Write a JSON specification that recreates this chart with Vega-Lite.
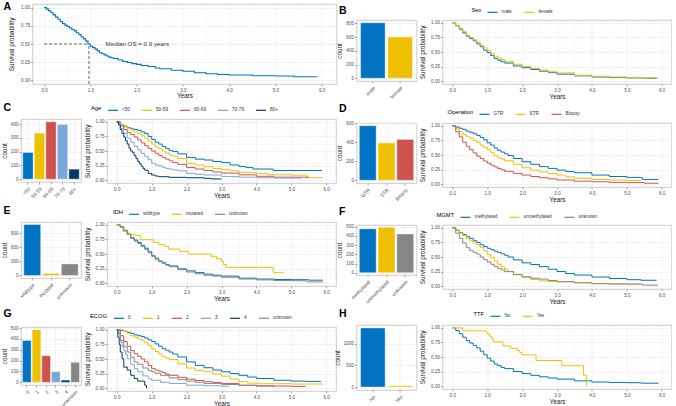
{
"$schema": "https://vega.github.io/schema/vega-lite/v6.json",
"padding": {"left": 0, "top": 1, "right": 0, "bottom": 0},
"background": "white",
"config": {
  "font": "Liberation Sans",
  "view": {"stroke": "#BEBEBE", "strokeWidth": 0.8},
  "axis": {"labelFontSize": 4.6, "labelColor": "#4D4D4D", "titleFontSize": 6.4, "titleFontWeight": "normal", "titleColor": "#1A1A1A", "tickColor": "#4D4D4D", "tickSize": 2, "tickWidth": 0.5, "domain": false, "gridColor": "#EBEBEB", "gridWidth": 0.6, "labelPadding": 1, "titlePadding": 3},
  "legend": {"orient": "none", "direction": "horizontal", "titleOrient": "left", "symbolType": "stroke", "symbolStrokeWidth": 1.2, "symbolSize": 100, "labelFontSize": 4.7, "labelColor": "#333333", "titleFontSize": 5.8, "titleFontWeight": "normal", "titleColor": "#000000", "titlePadding": 5, "columnPadding": 9, "labelOffset": 3, "padding": 0},
  "title": {"fontSize": 10.5, "fontWeight": "bold", "anchor": "start", "frame": "group", "color": "#000000"}
},
"datasets": {
  "kmA": [{"t":0,"s":1},{"t":0.05,"s":0.98},{"t":0.1,"s":0.955},{"t":0.15,"s":0.93},{"t":0.2,"s":0.9},{"t":0.25,"s":0.87},{"t":0.3,"s":0.84},{"t":0.35,"s":0.81},{"t":0.4,"s":0.78},{"t":0.45,"s":0.76},{"t":0.5,"s":0.74},{"t":0.55,"s":0.72},{"t":0.6,"s":0.7},{"t":0.65,"s":0.68},{"t":0.7,"s":0.655},{"t":0.75,"s":0.63},{"t":0.8,"s":0.6},{"t":0.85,"s":0.57},{"t":0.9,"s":0.54},{"t":0.95,"s":0.5},{"t":1,"s":0.47},{"t":1.05,"s":0.45},{"t":1.1,"s":0.43},{"t":1.15,"s":0.405},{"t":1.2,"s":0.38},{"t":1.25,"s":0.365},{"t":1.3,"s":0.35},{"t":1.35,"s":0.335},{"t":1.4,"s":0.32},{"t":1.45,"s":0.31},{"t":1.5,"s":0.3},{"t":1.6,"s":0.28},{"t":1.7,"s":0.26},{"t":1.8,"s":0.245},{"t":1.9,"s":0.23},{"t":2,"s":0.22},{"t":2.1,"s":0.205},{"t":2.25,"s":0.19},{"t":2.4,"s":0.17},{"t":2.5,"s":0.16},{"t":2.75,"s":0.14},{"t":3,"s":0.125},{"t":3.25,"s":0.105},{"t":3.5,"s":0.09},{"t":3.75,"s":0.08},{"t":4,"s":0.073},{"t":4.5,"s":0.064},{"t":5,"s":0.06},{"t":5.4,"s":0.05},{"t":5.9,"s":0.046}],
  "kmB": [
    {"g":"male","t":0,"s":1},{"g":"male","t":0.1,"s":0.95},{"g":"male","t":0.2,"s":0.89},{"g":"male","t":0.3,"s":0.83},{"g":"male","t":0.4,"s":0.77},{"g":"male","t":0.5,"s":0.73},{"g":"male","t":0.6,"s":0.69},{"g":"male","t":0.7,"s":0.64},{"g":"male","t":0.8,"s":0.59},{"g":"male","t":0.9,"s":0.53},{"g":"male","t":1,"s":0.49},{"g":"male","t":1.1,"s":0.44},{"g":"male","t":1.2,"s":0.39},{"g":"male","t":1.3,"s":0.36},{"g":"male","t":1.4,"s":0.33},{"g":"male","t":1.5,"s":0.31},{"g":"male","t":1.75,"s":0.26},{"g":"male","t":2,"s":0.23},{"g":"male","t":2.25,"s":0.2},{"g":"male","t":2.5,"s":0.17},{"g":"male","t":2.75,"s":0.145},{"g":"male","t":3,"s":0.12},{"g":"male","t":3.5,"s":0.09},{"g":"male","t":4,"s":0.07},{"g":"male","t":4.5,"s":0.06},{"g":"male","t":5,"s":0.055},{"g":"male","t":5.5,"s":0.05},{"g":"male","t":5.85,"s":0.045},
    {"g":"female","t":0,"s":1},{"g":"female","t":0.1,"s":0.96},{"g":"female","t":0.2,"s":0.91},{"g":"female","t":0.3,"s":0.85},{"g":"female","t":0.4,"s":0.79},{"g":"female","t":0.5,"s":0.75},{"g":"female","t":0.6,"s":0.71},{"g":"female","t":0.7,"s":0.67},{"g":"female","t":0.8,"s":0.62},{"g":"female","t":0.9,"s":0.57},{"g":"female","t":1,"s":0.53},{"g":"female","t":1.1,"s":0.48},{"g":"female","t":1.2,"s":0.43},{"g":"female","t":1.3,"s":0.4},{"g":"female","t":1.4,"s":0.37},{"g":"female","t":1.5,"s":0.34},{"g":"female","t":1.75,"s":0.29},{"g":"female","t":2,"s":0.255},{"g":"female","t":2.25,"s":0.22},{"g":"female","t":2.5,"s":0.19},{"g":"female","t":2.75,"s":0.16},{"g":"female","t":3,"s":0.14},{"g":"female","t":3.5,"s":0.1},{"g":"female","t":4,"s":0.08},{"g":"female","t":4.5,"s":0.07},{"g":"female","t":5,"s":0.06},{"g":"female","t":5.5,"s":0.055},{"g":"female","t":5.9,"s":0.05}],
  "kmC": [
    {"g":"<50","t":0,"s":1},{"g":"<50","t":0.1,"s":0.95},{"g":"<50","t":0.2,"s":0.92},{"g":"<50","t":0.3,"s":0.9},{"g":"<50","t":0.4,"s":0.88},{"g":"<50","t":0.5,"s":0.87},{"g":"<50","t":0.6,"s":0.855},{"g":"<50","t":0.7,"s":0.83},{"g":"<50","t":0.8,"s":0.8},{"g":"<50","t":0.9,"s":0.75},{"g":"<50","t":1,"s":0.7},{"g":"<50","t":1.1,"s":0.65},{"g":"<50","t":1.2,"s":0.62},{"g":"<50","t":1.3,"s":0.58},{"g":"<50","t":1.4,"s":0.545},{"g":"<50","t":1.5,"s":0.51},{"g":"<50","t":1.6,"s":0.49},{"g":"<50","t":1.75,"s":0.45},{"g":"<50","t":2,"s":0.39},{"g":"<50","t":2.25,"s":0.36},{"g":"<50","t":2.5,"s":0.345},{"g":"<50","t":2.75,"s":0.32},{"g":"<50","t":3,"s":0.3},{"g":"<50","t":3.25,"s":0.26},{"g":"<50","t":3.5,"s":0.235},{"g":"<50","t":3.7,"s":0.215},{"g":"<50","t":3.9,"s":0.19},{"g":"<50","t":4.48,"s":0.165},{"g":"<50","t":5.88,"s":0.165},
    {"g":"50-59","t":0,"s":1},{"g":"50-59","t":0.1,"s":0.96},{"g":"50-59","t":0.2,"s":0.93},{"g":"50-59","t":0.3,"s":0.89},{"g":"50-59","t":0.4,"s":0.86},{"g":"50-59","t":0.5,"s":0.83},{"g":"50-59","t":0.6,"s":0.8},{"g":"50-59","t":0.7,"s":0.76},{"g":"50-59","t":0.8,"s":0.72},{"g":"50-59","t":0.9,"s":0.67},{"g":"50-59","t":1,"s":0.62},{"g":"50-59","t":1.1,"s":0.57},{"g":"50-59","t":1.2,"s":0.54},{"g":"50-59","t":1.3,"s":0.5},{"g":"50-59","t":1.4,"s":0.465},{"g":"50-59","t":1.5,"s":0.43},{"g":"50-59","t":1.6,"s":0.41},{"g":"50-59","t":1.75,"s":0.37},{"g":"50-59","t":2,"s":0.29},{"g":"50-59","t":2.25,"s":0.26},{"g":"50-59","t":2.5,"s":0.23},{"g":"50-59","t":2.75,"s":0.2},{"g":"50-59","t":3,"s":0.18},{"g":"50-59","t":3.25,"s":0.16},{"g":"50-59","t":3.5,"s":0.135},{"g":"50-59","t":4,"s":0.115},{"g":"50-59","t":4.33,"s":0.09},{"g":"50-59","t":5,"s":0.085},{"g":"50-59","t":5.45,"s":0.04},{"g":"50-59","t":5.9,"s":0.04},
    {"g":"60-69","t":0,"s":1},{"g":"60-69","t":0.1,"s":0.93},{"g":"60-69","t":0.2,"s":0.87},{"g":"60-69","t":0.3,"s":0.82},{"g":"60-69","t":0.4,"s":0.785},{"g":"60-69","t":0.5,"s":0.74},{"g":"60-69","t":0.6,"s":0.69},{"g":"60-69","t":0.7,"s":0.64},{"g":"60-69","t":0.8,"s":0.59},{"g":"60-69","t":0.9,"s":0.545},{"g":"60-69","t":1,"s":0.5},{"g":"60-69","t":1.1,"s":0.46},{"g":"60-69","t":1.2,"s":0.425},{"g":"60-69","t":1.3,"s":0.39},{"g":"60-69","t":1.4,"s":0.36},{"g":"60-69","t":1.5,"s":0.33},{"g":"60-69","t":1.6,"s":0.3},{"g":"60-69","t":1.75,"s":0.27},{"g":"60-69","t":2,"s":0.215},{"g":"60-69","t":2.25,"s":0.19},{"g":"60-69","t":2.5,"s":0.165},{"g":"60-69","t":2.75,"s":0.14},{"g":"60-69","t":3,"s":0.12},{"g":"60-69","t":3.5,"s":0.09},{"g":"60-69","t":4,"s":0.065},{"g":"60-69","t":4.5,"s":0.05},{"g":"60-69","t":5.5,"s":0.047},
    {"g":"70-79","t":0,"s":1},{"g":"70-79","t":0.1,"s":0.89},{"g":"70-79","t":0.2,"s":0.8},{"g":"70-79","t":0.3,"s":0.72},{"g":"70-79","t":0.4,"s":0.65},{"g":"70-79","t":0.5,"s":0.58},{"g":"70-79","t":0.6,"s":0.52},{"g":"70-79","t":0.7,"s":0.46},{"g":"70-79","t":0.8,"s":0.41},{"g":"70-79","t":0.9,"s":0.35},{"g":"70-79","t":1,"s":0.29},{"g":"70-79","t":1.1,"s":0.26},{"g":"70-79","t":1.2,"s":0.245},{"g":"70-79","t":1.3,"s":0.22},{"g":"70-79","t":1.4,"s":0.2},{"g":"70-79","t":1.5,"s":0.19},{"g":"70-79","t":1.6,"s":0.175},{"g":"70-79","t":1.75,"s":0.16},{"g":"70-79","t":2,"s":0.115},{"g":"70-79","t":2.25,"s":0.1},{"g":"70-79","t":2.5,"s":0.087},{"g":"70-79","t":3,"s":0.06},{"g":"70-79","t":3.5,"s":0.05},{"g":"70-79","t":4,"s":0.04},{"g":"70-79","t":4.5,"s":0.035},{"g":"70-79","t":5.3,"s":0.03},
    {"g":"80+","t":0,"s":1},{"g":"80+","t":0.05,"s":0.95},{"g":"80+","t":0.1,"s":0.87},{"g":"80+","t":0.15,"s":0.8},{"g":"80+","t":0.2,"s":0.74},{"g":"80+","t":0.25,"s":0.68},{"g":"80+","t":0.3,"s":0.62},{"g":"80+","t":0.35,"s":0.55},{"g":"80+","t":0.4,"s":0.5},{"g":"80+","t":0.45,"s":0.47},{"g":"80+","t":0.5,"s":0.42},{"g":"80+","t":0.55,"s":0.37},{"g":"80+","t":0.6,"s":0.32},{"g":"80+","t":0.65,"s":0.28},{"g":"80+","t":0.7,"s":0.24},{"g":"80+","t":0.75,"s":0.2},{"g":"80+","t":0.8,"s":0.17},{"g":"80+","t":0.9,"s":0.115},{"g":"80+","t":1,"s":0.087},{"g":"80+","t":1.1,"s":0.07},{"g":"80+","t":1.2,"s":0.058},{"g":"80+","t":1.5,"s":0.047},{"g":"80+","t":2,"s":0.04},{"g":"80+","t":2.5,"s":0.03},{"g":"80+","t":2.7,"s":0.02},{"g":"80+","t":3,"s":0.02}],
  "kmD": [
    {"g":"GTR","t":0,"s":1},{"g":"GTR","t":0.1,"s":0.98},{"g":"GTR","t":0.2,"s":0.96},{"g":"GTR","t":0.3,"s":0.94},{"g":"GTR","t":0.4,"s":0.91},{"g":"GTR","t":0.5,"s":0.89},{"g":"GTR","t":0.6,"s":0.865},{"g":"GTR","t":0.7,"s":0.835},{"g":"GTR","t":0.8,"s":0.8},{"g":"GTR","t":0.9,"s":0.76},{"g":"GTR","t":1,"s":0.71},{"g":"GTR","t":1.1,"s":0.67},{"g":"GTR","t":1.2,"s":0.62},{"g":"GTR","t":1.3,"s":0.58},{"g":"GTR","t":1.4,"s":0.55},{"g":"GTR","t":1.5,"s":0.52},{"g":"GTR","t":1.6,"s":0.49},{"g":"GTR","t":1.75,"s":0.44},{"g":"GTR","t":2,"s":0.385},{"g":"GTR","t":2.25,"s":0.34},{"g":"GTR","t":2.5,"s":0.3},{"g":"GTR","t":2.75,"s":0.27},{"g":"GTR","t":3,"s":0.24},{"g":"GTR","t":3.25,"s":0.215},{"g":"GTR","t":3.5,"s":0.195},{"g":"GTR","t":4,"s":0.155},{"g":"GTR","t":4.5,"s":0.13},{"g":"GTR","t":5,"s":0.115},{"g":"GTR","t":5.4,"s":0.11},{"g":"GTR","t":5.45,"s":0.08},{"g":"GTR","t":5.9,"s":0.08},
    {"g":"STR","t":0,"s":1},{"g":"STR","t":0.1,"s":0.95},{"g":"STR","t":0.2,"s":0.9},{"g":"STR","t":0.3,"s":0.85},{"g":"STR","t":0.4,"s":0.82},{"g":"STR","t":0.5,"s":0.79},{"g":"STR","t":0.6,"s":0.75},{"g":"STR","t":0.7,"s":0.72},{"g":"STR","t":0.8,"s":0.67},{"g":"STR","t":0.9,"s":0.63},{"g":"STR","t":1,"s":0.59},{"g":"STR","t":1.1,"s":0.54},{"g":"STR","t":1.2,"s":0.49},{"g":"STR","t":1.3,"s":0.455},{"g":"STR","t":1.4,"s":0.43},{"g":"STR","t":1.5,"s":0.4},{"g":"STR","t":1.75,"s":0.34},{"g":"STR","t":2,"s":0.28},{"g":"STR","t":2.25,"s":0.24},{"g":"STR","t":2.5,"s":0.21},{"g":"STR","t":2.75,"s":0.18},{"g":"STR","t":3,"s":0.155},{"g":"STR","t":3.25,"s":0.125},{"g":"STR","t":3.5,"s":0.1},{"g":"STR","t":4,"s":0.08},{"g":"STR","t":4.5,"s":0.07},{"g":"STR","t":5,"s":0.06},{"g":"STR","t":5.4,"s":0.05},
    {"g":"Biopsy","t":0,"s":1},{"g":"Biopsy","t":0.1,"s":0.9},{"g":"Biopsy","t":0.2,"s":0.81},{"g":"Biopsy","t":0.3,"s":0.72},{"g":"Biopsy","t":0.4,"s":0.65},{"g":"Biopsy","t":0.5,"s":0.59},{"g":"Biopsy","t":0.6,"s":0.535},{"g":"Biopsy","t":0.7,"s":0.48},{"g":"Biopsy","t":0.8,"s":0.44},{"g":"Biopsy","t":0.9,"s":0.395},{"g":"Biopsy","t":1,"s":0.36},{"g":"Biopsy","t":1.1,"s":0.325},{"g":"Biopsy","t":1.2,"s":0.295},{"g":"Biopsy","t":1.3,"s":0.27},{"g":"Biopsy","t":1.4,"s":0.245},{"g":"Biopsy","t":1.5,"s":0.22},{"g":"Biopsy","t":1.75,"s":0.185},{"g":"Biopsy","t":2,"s":0.155},{"g":"Biopsy","t":2.25,"s":0.13},{"g":"Biopsy","t":2.5,"s":0.11},{"g":"Biopsy","t":2.75,"s":0.09},{"g":"Biopsy","t":3,"s":0.07},{"g":"Biopsy","t":3.5,"s":0.05},{"g":"Biopsy","t":4,"s":0.04},{"g":"Biopsy","t":4.5,"s":0.03},{"g":"Biopsy","t":5,"s":0.025},{"g":"Biopsy","t":5.5,"s":0.015},{"g":"Biopsy","t":5.9,"s":0.01}],
  "kmE": [
    {"g":"wildtype","t":0,"s":1},{"g":"wildtype","t":0.1,"s":0.96},{"g":"wildtype","t":0.2,"s":0.9},{"g":"wildtype","t":0.3,"s":0.84},{"g":"wildtype","t":0.4,"s":0.78},{"g":"wildtype","t":0.5,"s":0.74},{"g":"wildtype","t":0.6,"s":0.7},{"g":"wildtype","t":0.7,"s":0.65},{"g":"wildtype","t":0.8,"s":0.6},{"g":"wildtype","t":0.9,"s":0.54},{"g":"wildtype","t":1,"s":0.47},{"g":"wildtype","t":1.1,"s":0.43},{"g":"wildtype","t":1.2,"s":0.38},{"g":"wildtype","t":1.3,"s":0.35},{"g":"wildtype","t":1.4,"s":0.32},{"g":"wildtype","t":1.5,"s":0.295},{"g":"wildtype","t":1.75,"s":0.245},{"g":"wildtype","t":2,"s":0.21},{"g":"wildtype","t":2.25,"s":0.18},{"g":"wildtype","t":2.5,"s":0.155},{"g":"wildtype","t":2.75,"s":0.135},{"g":"wildtype","t":3,"s":0.12},{"g":"wildtype","t":3.5,"s":0.085},{"g":"wildtype","t":4,"s":0.07},{"g":"wildtype","t":4.5,"s":0.062},{"g":"wildtype","t":5,"s":0.058},{"g":"wildtype","t":5.5,"s":0.05},{"g":"wildtype","t":5.9,"s":0.045},
    {"g":"mutated","t":0,"s":1},{"g":"mutated","t":0.1,"s":0.97},{"g":"mutated","t":0.18,"s":0.89},{"g":"mutated","t":0.33,"s":0.84},{"g":"mutated","t":0.5,"s":0.82},{"g":"mutated","t":0.67,"s":0.745},{"g":"mutated","t":1.05,"s":0.7},{"g":"mutated","t":1.2,"s":0.66},{"g":"mutated","t":1.38,"s":0.63},{"g":"mutated","t":1.48,"s":0.585},{"g":"mutated","t":1.8,"s":0.545},{"g":"mutated","t":2.05,"s":0.5},{"g":"mutated","t":2.7,"s":0.46},{"g":"mutated","t":2.86,"s":0.415},{"g":"mutated","t":3,"s":0.375},{"g":"mutated","t":3.05,"s":0.32},{"g":"mutated","t":3.14,"s":0.27},{"g":"mutated","t":4.48,"s":0.18},{"g":"mutated","t":4.79,"s":0.18},
    {"g":"unknown","t":0,"s":1},{"g":"unknown","t":0.1,"s":0.97},{"g":"unknown","t":0.2,"s":0.91},{"g":"unknown","t":0.3,"s":0.84},{"g":"unknown","t":0.4,"s":0.77},{"g":"unknown","t":0.5,"s":0.72},{"g":"unknown","t":0.6,"s":0.68},{"g":"unknown","t":0.7,"s":0.63},{"g":"unknown","t":0.8,"s":0.58},{"g":"unknown","t":0.9,"s":0.52},{"g":"unknown","t":1,"s":0.46},{"g":"unknown","t":1.1,"s":0.41},{"g":"unknown","t":1.2,"s":0.37},{"g":"unknown","t":1.3,"s":0.34},{"g":"unknown","t":1.4,"s":0.31},{"g":"unknown","t":1.5,"s":0.28},{"g":"unknown","t":1.75,"s":0.23},{"g":"unknown","t":2,"s":0.19},{"g":"unknown","t":2.25,"s":0.16},{"g":"unknown","t":2.5,"s":0.135},{"g":"unknown","t":2.75,"s":0.12},{"g":"unknown","t":3,"s":0.1},{"g":"unknown","t":3.5,"s":0.07},{"g":"unknown","t":4,"s":0.055},{"g":"unknown","t":4.5,"s":0.045},{"g":"unknown","t":5,"s":0.04},{"g":"unknown","t":5.45,"s":0.02},{"g":"unknown","t":5.9,"s":0.02}],
  "kmF": [
    {"g":"methylated","t":0,"s":1},{"g":"methylated","t":0.1,"s":0.96},{"g":"methylated","t":0.2,"s":0.92},{"g":"methylated","t":0.3,"s":0.885},{"g":"methylated","t":0.4,"s":0.85},{"g":"methylated","t":0.5,"s":0.82},{"g":"methylated","t":0.6,"s":0.78},{"g":"methylated","t":0.7,"s":0.75},{"g":"methylated","t":0.8,"s":0.71},{"g":"methylated","t":0.9,"s":0.68},{"g":"methylated","t":1,"s":0.65},{"g":"methylated","t":1.1,"s":0.625},{"g":"methylated","t":1.2,"s":0.6},{"g":"methylated","t":1.3,"s":0.58},{"g":"methylated","t":1.4,"s":0.555},{"g":"methylated","t":1.5,"s":0.53},{"g":"methylated","t":1.6,"s":0.5},{"g":"methylated","t":1.75,"s":0.45},{"g":"methylated","t":2,"s":0.4},{"g":"methylated","t":2.25,"s":0.37},{"g":"methylated","t":2.5,"s":0.335},{"g":"methylated","t":2.75,"s":0.29},{"g":"methylated","t":3,"s":0.25},{"g":"methylated","t":3.25,"s":0.215},{"g":"methylated","t":3.5,"s":0.19},{"g":"methylated","t":4,"s":0.155},{"g":"methylated","t":4.5,"s":0.13},{"g":"methylated","t":5,"s":0.11},{"g":"methylated","t":5.4,"s":0.1},{"g":"methylated","t":5.85,"s":0.1},
    {"g":"unmethylated","t":0,"s":1},{"g":"unmethylated","t":0.1,"s":0.96},{"g":"unmethylated","t":0.2,"s":0.91},{"g":"unmethylated","t":0.3,"s":0.87},{"g":"unmethylated","t":0.4,"s":0.82},{"g":"unmethylated","t":0.5,"s":0.78},{"g":"unmethylated","t":0.6,"s":0.745},{"g":"unmethylated","t":0.7,"s":0.71},{"g":"unmethylated","t":0.8,"s":0.665},{"g":"unmethylated","t":0.9,"s":0.61},{"g":"unmethylated","t":1,"s":0.545},{"g":"unmethylated","t":1.1,"s":0.49},{"g":"unmethylated","t":1.2,"s":0.43},{"g":"unmethylated","t":1.3,"s":0.375},{"g":"unmethylated","t":1.4,"s":0.33},{"g":"unmethylated","t":1.5,"s":0.29},{"g":"unmethylated","t":1.6,"s":0.25},{"g":"unmethylated","t":1.75,"s":0.195},{"g":"unmethylated","t":2,"s":0.15},{"g":"unmethylated","t":2.25,"s":0.115},{"g":"unmethylated","t":2.5,"s":0.09},{"g":"unmethylated","t":2.75,"s":0.08},{"g":"unmethylated","t":3,"s":0.075},{"g":"unmethylated","t":3.5,"s":0.057},{"g":"unmethylated","t":4,"s":0.045},{"g":"unmethylated","t":4.5,"s":0.04},{"g":"unmethylated","t":5,"s":0.035},{"g":"unmethylated","t":5.4,"s":0.035},
    {"g":"unknown","t":0,"s":1},{"g":"unknown","t":0.1,"s":0.91},{"g":"unknown","t":0.2,"s":0.82},{"g":"unknown","t":0.3,"s":0.74},{"g":"unknown","t":0.4,"s":0.66},{"g":"unknown","t":0.5,"s":0.61},{"g":"unknown","t":0.6,"s":0.58},{"g":"unknown","t":0.7,"s":0.55},{"g":"unknown","t":0.8,"s":0.5},{"g":"unknown","t":0.9,"s":0.455},{"g":"unknown","t":1,"s":0.415},{"g":"unknown","t":1.1,"s":0.375},{"g":"unknown","t":1.2,"s":0.34},{"g":"unknown","t":1.3,"s":0.305},{"g":"unknown","t":1.4,"s":0.28},{"g":"unknown","t":1.5,"s":0.25},{"g":"unknown","t":1.75,"s":0.2},{"g":"unknown","t":2,"s":0.16},{"g":"unknown","t":2.25,"s":0.135},{"g":"unknown","t":2.5,"s":0.12},{"g":"unknown","t":2.75,"s":0.095},{"g":"unknown","t":3,"s":0.075},{"g":"unknown","t":3.5,"s":0.057},{"g":"unknown","t":4,"s":0.04},{"g":"unknown","t":4.5,"s":0.035},{"g":"unknown","t":5,"s":0.035},{"g":"unknown","t":5.45,"s":0.017},{"g":"unknown","t":5.9,"s":0.017}],
  "kmG": [
    {"g":"0","t":0,"s":1},{"g":"0","t":0.1,"s":0.99},{"g":"0","t":0.2,"s":0.975},{"g":"0","t":0.3,"s":0.96},{"g":"0","t":0.4,"s":0.94},{"g":"0","t":0.5,"s":0.915},{"g":"0","t":0.6,"s":0.9},{"g":"0","t":0.7,"s":0.885},{"g":"0","t":0.8,"s":0.86},{"g":"0","t":0.9,"s":0.83},{"g":"0","t":1,"s":0.8},{"g":"0","t":1.1,"s":0.76},{"g":"0","t":1.2,"s":0.72},{"g":"0","t":1.3,"s":0.68},{"g":"0","t":1.4,"s":0.65},{"g":"0","t":1.5,"s":0.62},{"g":"0","t":1.6,"s":0.585},{"g":"0","t":1.75,"s":0.535},{"g":"0","t":2,"s":0.45},{"g":"0","t":2.25,"s":0.39},{"g":"0","t":2.5,"s":0.35},{"g":"0","t":2.75,"s":0.31},{"g":"0","t":3,"s":0.28},{"g":"0","t":3.25,"s":0.25},{"g":"0","t":3.5,"s":0.22},{"g":"0","t":3.75,"s":0.19},{"g":"0","t":4,"s":0.165},{"g":"0","t":4.5,"s":0.135},{"g":"0","t":5,"s":0.12},{"g":"0","t":5.4,"s":0.115},{"g":"0","t":5.85,"s":0.115},
    {"g":"1","t":0,"s":1},{"g":"1","t":0.2,"s":0.97},{"g":"1","t":0.3,"s":0.94},{"g":"1","t":0.4,"s":0.9},{"g":"1","t":0.5,"s":0.875},{"g":"1","t":0.6,"s":0.845},{"g":"1","t":0.7,"s":0.815},{"g":"1","t":0.8,"s":0.78},{"g":"1","t":0.9,"s":0.73},{"g":"1","t":1,"s":0.675},{"g":"1","t":1.1,"s":0.63},{"g":"1","t":1.2,"s":0.585},{"g":"1","t":1.3,"s":0.54},{"g":"1","t":1.4,"s":0.515},{"g":"1","t":1.5,"s":0.49},{"g":"1","t":1.75,"s":0.415},{"g":"1","t":2,"s":0.345},{"g":"1","t":2.25,"s":0.305},{"g":"1","t":2.5,"s":0.28},{"g":"1","t":2.75,"s":0.24},{"g":"1","t":3,"s":0.205},{"g":"1","t":3.25,"s":0.155},{"g":"1","t":3.5,"s":0.11},{"g":"1","t":3.75,"s":0.085},{"g":"1","t":4,"s":0.075},{"g":"1","t":5,"s":0.07},{"g":"1","t":5.9,"s":0.065},
    {"g":"2","t":0,"s":1},{"g":"2","t":0.1,"s":0.9},{"g":"2","t":0.2,"s":0.8},{"g":"2","t":0.3,"s":0.72},{"g":"2","t":0.4,"s":0.645},{"g":"2","t":0.5,"s":0.59},{"g":"2","t":0.6,"s":0.545},{"g":"2","t":0.7,"s":0.5},{"g":"2","t":0.8,"s":0.45},{"g":"2","t":0.9,"s":0.39},{"g":"2","t":1,"s":0.335},{"g":"2","t":1.1,"s":0.31},{"g":"2","t":1.2,"s":0.29},{"g":"2","t":1.3,"s":0.265},{"g":"2","t":1.4,"s":0.24},{"g":"2","t":1.5,"s":0.22},{"g":"2","t":1.75,"s":0.185},{"g":"2","t":2,"s":0.155},{"g":"2","t":2.25,"s":0.13},{"g":"2","t":2.5,"s":0.11},{"g":"2","t":2.75,"s":0.095},{"g":"2","t":3,"s":0.08},{"g":"2","t":3.5,"s":0.05},{"g":"2","t":4,"s":0.04},{"g":"2","t":4.5,"s":0.035},{"g":"2","t":5,"s":0.03},{"g":"2","t":5.4,"s":0.025},
    {"g":"3","t":0,"s":1},{"g":"3","t":0.05,"s":0.93},{"g":"3","t":0.1,"s":0.79},{"g":"3","t":0.15,"s":0.72},{"g":"3","t":0.2,"s":0.65},{"g":"3","t":0.25,"s":0.58},{"g":"3","t":0.3,"s":0.505},{"g":"3","t":0.4,"s":0.41},{"g":"3","t":0.5,"s":0.335},{"g":"3","t":0.6,"s":0.28},{"g":"3","t":0.75,"s":0.21},{"g":"3","t":0.9,"s":0.16},{"g":"3","t":1,"s":0.135},{"g":"3","t":1.25,"s":0.1},{"g":"3","t":1.5,"s":0.08},{"g":"3","t":2,"s":0.05},{"g":"3","t":2.5,"s":0.04},{"g":"3","t":3,"s":0.03},{"g":"3","t":3.2,"s":0.02},
    {"g":"4","t":0,"s":1},{"g":"4","t":0.03,"s":0.875},{"g":"4","t":0.07,"s":0.75},{"g":"4","t":0.1,"s":0.62},{"g":"4","t":0.15,"s":0.505},{"g":"4","t":0.2,"s":0.36},{"g":"4","t":0.3,"s":0.31},{"g":"4","t":0.4,"s":0.22},{"g":"4","t":0.5,"s":0.165},{"g":"4","t":0.6,"s":0.12},{"g":"4","t":0.8,"s":0.05},{"g":"4","t":0.85,"s":0},
    {"g":"unknown","t":0,"s":1},{"g":"unknown","t":0.1,"s":0.82},{"g":"unknown","t":0.2,"s":0.71},{"g":"unknown","t":0.3,"s":0.62},{"g":"unknown","t":0.4,"s":0.53},{"g":"unknown","t":0.5,"s":0.45},{"g":"unknown","t":0.6,"s":0.41},{"g":"unknown","t":0.75,"s":0.345},{"g":"unknown","t":0.9,"s":0.3},{"g":"unknown","t":1,"s":0.28},{"g":"unknown","t":1.1,"s":0.255},{"g":"unknown","t":1.25,"s":0.22},{"g":"unknown","t":1.5,"s":0.175},{"g":"unknown","t":1.75,"s":0.145},{"g":"unknown","t":2,"s":0.12},{"g":"unknown","t":2.25,"s":0.1},{"g":"unknown","t":2.5,"s":0.08},{"g":"unknown","t":3,"s":0.0625},{"g":"unknown","t":3.5,"s":0.045},{"g":"unknown","t":4,"s":0.034},{"g":"unknown","t":4.5,"s":0.028}],
  "kmH": [
    {"g":"No","t":0,"s":1},{"g":"No","t":0.1,"s":0.955},{"g":"No","t":0.2,"s":0.9},{"g":"No","t":0.3,"s":0.84},{"g":"No","t":0.4,"s":0.78},{"g":"No","t":0.5,"s":0.74},{"g":"No","t":0.6,"s":0.7},{"g":"No","t":0.7,"s":0.655},{"g":"No","t":0.8,"s":0.6},{"g":"No","t":0.9,"s":0.54},{"g":"No","t":1,"s":0.48},{"g":"No","t":1.1,"s":0.43},{"g":"No","t":1.2,"s":0.38},{"g":"No","t":1.3,"s":0.35},{"g":"No","t":1.4,"s":0.32},{"g":"No","t":1.5,"s":0.3},{"g":"No","t":1.75,"s":0.25},{"g":"No","t":2,"s":0.215},{"g":"No","t":2.25,"s":0.185},{"g":"No","t":2.5,"s":0.16},{"g":"No","t":2.75,"s":0.14},{"g":"No","t":3,"s":0.12},{"g":"No","t":3.5,"s":0.09},{"g":"No","t":4,"s":0.07},{"g":"No","t":4.5,"s":0.063},{"g":"No","t":5,"s":0.058},{"g":"No","t":5.4,"s":0.05},{"g":"No","t":5.9,"s":0.046},
    {"g":"Yes","t":0,"s":1},{"g":"Yes","t":0.3,"s":0.95},{"g":"Yes","t":0.95,"s":0.93},{"g":"Yes","t":1,"s":0.9},{"g":"Yes","t":1.07,"s":0.86},{"g":"Yes","t":1.12,"s":0.82},{"g":"Yes","t":1.17,"s":0.76},{"g":"Yes","t":1.45,"s":0.69},{"g":"Yes","t":1.67,"s":0.65},{"g":"Yes","t":1.86,"s":0.61},{"g":"Yes","t":1.93,"s":0.575},{"g":"Yes","t":2,"s":0.535},{"g":"Yes","t":2.4,"s":0.44},{"g":"Yes","t":3.14,"s":0.35},{"g":"Yes","t":3.76,"s":0.19},{"g":"Yes","t":3.84,"s":0}],
  "barB": [{"g":"male","n":810},{"g":"female","n":602}],
  "barC": [{"g":"<50","n":194},{"g":"50-59","n":335},{"g":"60-69","n":417},{"g":"70-79","n":398},{"g":"80+","n":73}],
  "barD": [{"g":"GTR","n":576},{"g":"STR","n":393},{"g":"Biopsy","n":431}],
  "barE": [{"g":"wildtype","n":1080},{"g":"mutated","n":42},{"g":"unknown","n":245}],
  "barF": [{"g":"methylated","n":478},{"g":"unmethylated","n":495},{"g":"unknown","n":422}],
  "barG": [{"g":"0","n":386},{"g":"1","n":485},{"g":"2","n":245},{"g":"3","n":98},{"g":"4","n":21},{"g":"unknown","n":184}],
  "barH": [{"g":"No","n":1370},{"g":"Yes","n":30}]
},
"spacing": -3.5,
"resolve": {"scale": {"color": "independent"}, "legend": {"color": "independent"}},
"hconcat": [
 {
  "spacing": 0,
  "resolve": {"scale": {"color": "independent"}, "legend": {"color": "independent"}},
  "vconcat": [
   {
    "bounds": "flush",
    "spacing": 10.5,
    "hconcat": [
     {"width": 1, "height": 1, "view": {"stroke": null}, "data": {"values": [{}]}, "mark": {"type": "point", "opacity": 0, "size": 0},
      "title": {"text": "A", "dx": -17.5, "offset": -8}},
     {"width": 304, "height": 80,
      "layer": [
       {"data": {"name": "kmA"}, "mark": {"type": "line", "interpolate": "step-after", "strokeWidth": 1.1, "color": "#0073C2"},
        "encoding": {
         "x": {"field": "t", "type": "quantitative", "title": "Years", "scale": {"domain": [-0.25, 6.32], "nice": false, "zero": false},
               "axis": {"values": [0,0.5,1,1.5,2,2.5,3,3.5,4,4.5,5,5.5,6], "labelExpr": "datum.value % 1 == 0 ? datum.label : ''", "gridWidth": {"condition": {"test": "datum.value % 1 != 0", "value": 0.3}, "value": 0.6}, "tickSize": {"condition": {"test": "datum.value % 1 != 0", "value": 0}, "value": 2}, "labelOverlap": false, "labelFlush": false, "titlePadding": 1}},
         "y": {"field": "s", "type": "quantitative", "title": "Survival probability", "scale": {"domain": [-0.05, 1.05], "nice": false, "zero": false},
               "axis": {"values": [0,0.125,0.25,0.375,0.5,0.625,0.75,0.875,1], "labelExpr": "(datum.value * 4) % 1 == 0 ? format(datum.value, '.2f') : ''", "gridWidth": {"condition": {"test": "(datum.value * 4) % 1 != 0", "value": 0.3}, "value": 0.6}, "tickSize": {"condition": {"test": "(datum.value * 4) % 1 != 0", "value": 0}, "value": 2}, "labelOverlap": false, "labelFlush": false, "titlePadding": 6}}
        }},
       {"data": {"values": [{}]}, "mark": {"type": "rule", "strokeDash": [3, 2], "color": "#222222", "strokeWidth": 0.7},
        "encoding": {
         "x": {"datum": 0, "type": "quantitative", "title": "Years", "axis": {"values": [0,0.5,1,1.5,2,2.5,3,3.5,4,4.5,5,5.5,6], "labelExpr": "datum.value % 1 == 0 ? datum.label : ''", "gridWidth": {"condition": {"test": "datum.value % 1 != 0", "value": 0.3}, "value": 0.6}, "tickSize": {"condition": {"test": "datum.value % 1 != 0", "value": 0}, "value": 2}, "labelOverlap": false, "labelFlush": false, "titlePadding": 1}},
         "x2": {"datum": 0.97},
         "y": {"datum": 0.5, "type": "quantitative", "title": "Survival probability", "axis": {"values": [0,0.125,0.25,0.375,0.5,0.625,0.75,0.875,1], "labelExpr": "(datum.value * 4) % 1 == 0 ? format(datum.value, '.2f') : ''", "gridWidth": {"condition": {"test": "(datum.value * 4) % 1 != 0", "value": 0.3}, "value": 0.6}, "tickSize": {"condition": {"test": "(datum.value * 4) % 1 != 0", "value": 0}, "value": 2}, "labelOverlap": false, "labelFlush": false, "titlePadding": 6}}}},
       {"data": {"values": [{}]}, "mark": {"type": "rule", "strokeDash": [3, 2], "color": "#222222", "strokeWidth": 0.7},
        "encoding": {
         "x": {"datum": 0.97, "type": "quantitative", "title": "Years", "axis": {"values": [0,0.5,1,1.5,2,2.5,3,3.5,4,4.5,5,5.5,6], "labelExpr": "datum.value % 1 == 0 ? datum.label : ''", "gridWidth": {"condition": {"test": "datum.value % 1 != 0", "value": 0.3}, "value": 0.6}, "tickSize": {"condition": {"test": "datum.value % 1 != 0", "value": 0}, "value": 2}, "labelOverlap": false, "labelFlush": false, "titlePadding": 1}},
         "y": {"datum": -0.05, "type": "quantitative", "title": "Survival probability", "axis": {"values": [0,0.125,0.25,0.375,0.5,0.625,0.75,0.875,1], "labelExpr": "(datum.value * 4) % 1 == 0 ? format(datum.value, '.2f') : ''", "gridWidth": {"condition": {"test": "(datum.value * 4) % 1 != 0", "value": 0.3}, "value": 0.6}, "tickSize": {"condition": {"test": "(datum.value * 4) % 1 != 0", "value": 0}, "value": 2}, "labelOverlap": false, "labelFlush": false, "titlePadding": 6}},
         "y2": {"datum": 0.5}}},
       {"data": {"values": [{}]}, "mark": {"type": "text", "align": "left", "baseline": "middle", "fontSize": 6.2, "color": "#333333"},
        "encoding": {
         "x": {"datum": 1.33, "type": "quantitative", "title": "Years", "axis": {"values": [0,0.5,1,1.5,2,2.5,3,3.5,4,4.5,5,5.5,6], "labelExpr": "datum.value % 1 == 0 ? datum.label : ''", "gridWidth": {"condition": {"test": "datum.value % 1 != 0", "value": 0.3}, "value": 0.6}, "tickSize": {"condition": {"test": "datum.value % 1 != 0", "value": 0}, "value": 2}, "labelOverlap": false, "labelFlush": false, "titlePadding": 1}},
         "y": {"datum": 0.5, "type": "quantitative", "title": "Survival probability", "axis": {"values": [0,0.125,0.25,0.375,0.5,0.625,0.75,0.875,1], "labelExpr": "(datum.value * 4) % 1 == 0 ? format(datum.value, '.2f') : ''", "gridWidth": {"condition": {"test": "(datum.value * 4) % 1 != 0", "value": 0.3}, "value": 0.6}, "tickSize": {"condition": {"test": "(datum.value * 4) % 1 != 0", "value": 0}, "value": 2}, "labelOverlap": false, "labelFlush": false, "titlePadding": 6}},
         "text": {"value": "Median OS = 0.9 years"}}}
      ]}
    ]
   },
   {
    "bounds": "flush", "spacing": 26,
    "resolve": {"scale": {"color": "independent"}, "legend": {"color": "independent"}},
    "hconcat": [
     {"width": 60, "height": 63, "title": {"text": ["", "C"], "dx": -17.5, "offset": 6, "lineHeight": 2},
      "data": {"name": "barC"}, "mark": {"type": "bar", "stroke": "white", "strokeWidth": 0.4},
      "encoding": {
       "x": {"field": "g", "type": "nominal", "title": null, "scale": {"domain": ["<50","50-59","60-69","70-79","80+"], "paddingInner": 0.1, "paddingOuter": 0.15}, "axis": {"labelAngle": -45, "labelAlign": "right", "labelBaseline": "top", "labelFontSize": 5, "labelPadding": 2, "grid": true}},
       "y": {"field": "n", "type": "quantitative", "title": "count", "scale": {"domain": [-20.85, 437.85], "nice": false, "zero": false},
             "axis": {"values": [0,50,100,150,200,250,300,350,400], "format": "d", "labelExpr": "datum.value % 100 == 0 ? datum.label : ''", "gridWidth": {"condition": {"test": "datum.value % 100 != 0", "value": 0.3}, "value": 0.6}, "tickSize": {"condition": {"test": "datum.value % 100 != 0", "value": 0}, "value": 2}, "labelOverlap": false}},
       "y2": {"datum": 0},
       "color": {"field": "g", "type": "nominal", "scale": {"domain": ["<50","50-59","60-69","70-79","80+"], "range": ["#0073C2","#EFC000","#CD534C","#7AA6DC","#003C67"]}, "legend": null}
      }},
     {"width": 229, "height": 64, "data": {"name": "kmC"}, "mark": {"type": "line", "interpolate": "step-after", "strokeWidth": 1},
      "encoding": {
       "x": {"field": "t", "type": "quantitative", "title": "Years", "scale": {"domain": [-0.28, 6.28], "nice": false, "zero": false},
             "axis": {"values": [0,0.5,1,1.5,2,2.5,3,3.5,4,4.5,5,5.5,6], "labelExpr": "datum.value % 1 == 0 ? datum.label : ''", "gridWidth": {"condition": {"test": "datum.value % 1 != 0", "value": 0.3}, "value": 0.6}, "tickSize": {"condition": {"test": "datum.value % 1 != 0", "value": 0}, "value": 2}, "labelOverlap": false, "labelFlush": false, "titlePadding": 1.5}},
       "y": {"field": "s", "type": "quantitative", "title": "Survival probability", "scale": {"domain": [-0.05, 1.05], "nice": false, "zero": false},
             "axis": {"values": [0,0.125,0.25,0.375,0.5,0.625,0.75,0.875,1], "labelExpr": "(datum.value * 4) % 1 == 0 ? format(datum.value, '.2f') : ''", "gridWidth": {"condition": {"test": "(datum.value * 4) % 1 != 0", "value": 0.3}, "value": 0.6}, "tickSize": {"condition": {"test": "(datum.value * 4) % 1 != 0", "value": 0}, "value": 2}, "labelOverlap": false, "labelFlush": false, "titlePadding": 5}},
       "color": {"field": "g", "type": "nominal", "scale": {"domain": ["<50","50-59","60-69","70-79","80+"], "range": ["#0073C2","#EFC000","#CD534C","#7AA6DC","#003C67"]}, "legend": {"title": "Age", "legendX": -16, "legendY": -15}}
      }}
    ]
   },
   {
    "bounds": "flush", "spacing": 26,
    "resolve": {"scale": {"color": "independent"}, "legend": {"color": "independent"}},
    "hconcat": [
     {"width": 60, "height": 56, "title": {"text": ["", "E"], "dx": -17.5, "offset": 6, "lineHeight": 6},
      "data": {"name": "barE"}, "mark": {"type": "bar", "stroke": "white", "strokeWidth": 0.4},
      "encoding": {
       "x": {"field": "g", "type": "nominal", "title": null, "scale": {"domain": ["wildtype","mutated","unknown"], "paddingInner": 0.1, "paddingOuter": 0.15}, "axis": {"labelAngle": -45, "labelAlign": "right", "labelBaseline": "top", "labelFontSize": 5, "labelPadding": 2, "grid": true}},
       "y": {"field": "n", "type": "quantitative", "title": "count", "scale": {"domain": [-54, 1134], "nice": false, "zero": false},
             "axis": {"values": [0,150,300,450,600,750,900,1050], "format": "d", "labelExpr": "datum.value % 300 == 0 ? datum.label : ''", "gridWidth": {"condition": {"test": "datum.value % 300 != 0", "value": 0.3}, "value": 0.6}, "tickSize": {"condition": {"test": "datum.value % 300 != 0", "value": 0}, "value": 2}, "labelOverlap": false}},
       "y2": {"datum": 0},
       "color": {"field": "g", "type": "nominal", "scale": {"domain": ["wildtype","mutated","unknown"], "range": ["#0073C2","#EFC000","#868686"]}, "legend": null}
      }},
     {"width": 229, "height": 64, "data": {"name": "kmE"}, "mark": {"type": "line", "interpolate": "step-after", "strokeWidth": 1},
      "encoding": {
       "x": {"field": "t", "type": "quantitative", "title": "Years", "scale": {"domain": [-0.28, 6.28], "nice": false, "zero": false},
             "axis": {"values": [0,0.5,1,1.5,2,2.5,3,3.5,4,4.5,5,5.5,6], "labelExpr": "datum.value % 1 == 0 ? datum.label : ''", "gridWidth": {"condition": {"test": "datum.value % 1 != 0", "value": 0.3}, "value": 0.6}, "tickSize": {"condition": {"test": "datum.value % 1 != 0", "value": 0}, "value": 2}, "labelOverlap": false, "labelFlush": false, "titlePadding": 1.5}},
       "y": {"field": "s", "type": "quantitative", "title": "Survival probability", "scale": {"domain": [-0.05, 1.05], "nice": false, "zero": false},
             "axis": {"values": [0,0.125,0.25,0.375,0.5,0.625,0.75,0.875,1], "labelExpr": "(datum.value * 4) % 1 == 0 ? format(datum.value, '.2f') : ''", "gridWidth": {"condition": {"test": "(datum.value * 4) % 1 != 0", "value": 0.3}, "value": 0.6}, "tickSize": {"condition": {"test": "(datum.value * 4) % 1 != 0", "value": 0}, "value": 2}, "labelOverlap": false, "labelFlush": false, "titlePadding": 5}},
       "color": {"field": "g", "type": "nominal", "scale": {"domain": ["wildtype","mutated","unknown"], "range": ["#0073C2","#EFC000","#868686"]}, "legend": {"title": "IDH", "legendX": 6, "legendY": -14}}
      }}
    ]
   },
   {
    "bounds": "flush", "spacing": 26,
    "resolve": {"scale": {"color": "independent"}, "legend": {"color": "independent"}},
    "hconcat": [
     {"width": 60, "height": 58, "title": {"text": ["", "G"], "dx": -17.5, "offset": 6, "lineHeight": 6},
      "data": {"name": "barG"}, "mark": {"type": "bar", "stroke": "white", "strokeWidth": 0.4},
      "encoding": {
       "x": {"field": "g", "type": "nominal", "title": null, "scale": {"domain": ["0","1","2","3","4","unknown"], "paddingInner": 0.1, "paddingOuter": 0.15}, "axis": {"labelAngle": -45, "labelAlign": "right", "labelBaseline": "top", "labelFontSize": 5, "labelPadding": 2, "grid": true}},
       "y": {"field": "n", "type": "quantitative", "title": "count", "scale": {"domain": [-24.25, 509.25], "nice": false, "zero": false},
             "axis": {"values": [0,50,100,150,200,250,300,350,400,450,500], "format": "d", "labelExpr": "datum.value % 100 == 0 ? datum.label : ''", "gridWidth": {"condition": {"test": "datum.value % 100 != 0", "value": 0.3}, "value": 0.6}, "tickSize": {"condition": {"test": "datum.value % 100 != 0", "value": 0}, "value": 2}, "labelOverlap": false}},
       "y2": {"datum": 0},
       "color": {"field": "g", "type": "nominal", "scale": {"domain": ["0","1","2","3","4","unknown"], "range": ["#0073C2","#EFC000","#CD534C","#7AA6DC","#003C67","#868686"]}, "legend": null}
      }},
     {"width": 229, "height": 64, "data": {"name": "kmG"}, "mark": {"type": "line", "interpolate": "step-after", "strokeWidth": 1},
      "encoding": {
       "x": {"field": "t", "type": "quantitative", "title": "Years", "scale": {"domain": [-0.28, 6.28], "nice": false, "zero": false},
             "axis": {"values": [0,0.5,1,1.5,2,2.5,3,3.5,4,4.5,5,5.5,6], "labelExpr": "datum.value % 1 == 0 ? datum.label : ''", "gridWidth": {"condition": {"test": "datum.value % 1 != 0", "value": 0.3}, "value": 0.6}, "tickSize": {"condition": {"test": "datum.value % 1 != 0", "value": 0}, "value": 2}, "labelOverlap": false, "labelFlush": false, "titlePadding": 1.5}},
       "y": {"field": "s", "type": "quantitative", "title": "Survival probability", "scale": {"domain": [-0.05, 1.05], "nice": false, "zero": false},
             "axis": {"values": [0,0.125,0.25,0.375,0.5,0.625,0.75,0.875,1], "labelExpr": "(datum.value * 4) % 1 == 0 ? format(datum.value, '.2f') : ''", "gridWidth": {"condition": {"test": "(datum.value * 4) % 1 != 0", "value": 0.3}, "value": 0.6}, "tickSize": {"condition": {"test": "(datum.value * 4) % 1 != 0", "value": 0}, "value": 2}, "labelOverlap": false, "labelFlush": false, "titlePadding": 5}},
       "color": {"field": "g", "type": "nominal", "scale": {"domain": ["0","1","2","3","4","unknown"], "range": ["#0073C2","#EFC000","#CD534C","#7AA6DC","#003C67","#868686"]}, "legend": {"title": "ECOG", "legendX": -17, "legendY": -15}}
      }}
    ]
   }
  ]
 },
 {
  "spacing": 0,
  "resolve": {"scale": {"color": "independent"}, "legend": {"color": "independent"}},
  "vconcat": [
   {"width": 1, "height": 1, "view": {"stroke": null}, "data": {"values": [{}]}, "mark": {"type": "point", "opacity": 0, "size": 0}},
   {
    "bounds": "flush", "spacing": 26,
    "resolve": {"scale": {"color": "independent"}, "legend": {"color": "independent"}},
    "hconcat": [
     {"width": 60, "height": 61, "title": {"text": "B", "dx": -17.5, "offset": 4},
      "data": {"name": "barB"}, "mark": {"type": "bar", "stroke": "white", "strokeWidth": 0.4},
      "encoding": {
       "x": {"field": "g", "type": "nominal", "title": null, "scale": {"domain": ["male","female"], "paddingInner": 0.1, "paddingOuter": 0.15}, "axis": {"labelAngle": -45, "labelAlign": "right", "labelBaseline": "top", "labelFontSize": 5, "labelPadding": 2, "grid": true}},
       "y": {"field": "n", "type": "quantitative", "title": "count", "scale": {"domain": [-40.5, 850.5], "nice": false, "zero": false},
             "axis": {"values": [0,100,200,300,400,500,600,700,800], "format": "d", "labelExpr": "datum.value % 200 == 0 ? datum.label : ''", "gridWidth": {"condition": {"test": "datum.value % 200 != 0", "value": 0.3}, "value": 0.6}, "tickSize": {"condition": {"test": "datum.value % 200 != 0", "value": 0}, "value": 2}, "labelOverlap": false}},
       "y2": {"datum": 0},
       "color": {"field": "g", "type": "nominal", "scale": {"domain": ["male","female"], "range": ["#0073C2","#EFC000"]}, "legend": null}
      }},
     {"width": 229, "height": 64, "data": {"name": "kmB"}, "mark": {"type": "line", "interpolate": "step-after", "strokeWidth": 1},
      "encoding": {
       "x": {"field": "t", "type": "quantitative", "title": "Years", "scale": {"domain": [-0.28, 6.28], "nice": false, "zero": false},
             "axis": {"values": [0,0.5,1,1.5,2,2.5,3,3.5,4,4.5,5,5.5,6], "labelExpr": "datum.value % 1 == 0 ? datum.label : ''", "gridWidth": {"condition": {"test": "datum.value % 1 != 0", "value": 0.3}, "value": 0.6}, "tickSize": {"condition": {"test": "datum.value % 1 != 0", "value": 0}, "value": 2}, "labelOverlap": false, "labelFlush": false, "titlePadding": 1.5}},
       "y": {"field": "s", "type": "quantitative", "title": "Survival probability", "scale": {"domain": [-0.05, 1.05], "nice": false, "zero": false},
             "axis": {"values": [0,0.125,0.25,0.375,0.5,0.625,0.75,0.875,1], "labelExpr": "(datum.value * 4) % 1 == 0 ? format(datum.value, '.2f') : ''", "gridWidth": {"condition": {"test": "(datum.value * 4) % 1 != 0", "value": 0.3}, "value": 0.6}, "tickSize": {"condition": {"test": "(datum.value * 4) % 1 != 0", "value": 0}, "value": 2}, "labelOverlap": false, "labelFlush": false, "titlePadding": 5}},
       "color": {"field": "g", "type": "nominal", "scale": {"domain": ["male","female"], "range": ["#0073C2","#EFC000"]}, "legend": {"title": "Sex", "legendX": 29, "legendY": -14}}
      }}
    ]
   },
   {
    "bounds": "flush", "spacing": 26,
    "resolve": {"scale": {"color": "independent"}, "legend": {"color": "independent"}},
    "hconcat": [
     {"width": 60, "height": 60, "title": {"text": ["", "D"], "dx": -17.5, "offset": 6, "lineHeight": 3},
      "data": {"name": "barD"}, "mark": {"type": "bar", "stroke": "white", "strokeWidth": 0.4},
      "encoding": {
       "x": {"field": "g", "type": "nominal", "title": null, "scale": {"domain": ["GTR","STR","Biopsy"], "paddingInner": 0.1, "paddingOuter": 0.15}, "axis": {"labelAngle": -45, "labelAlign": "right", "labelBaseline": "top", "labelFontSize": 5, "labelPadding": 2, "grid": true}},
       "y": {"field": "n", "type": "quantitative", "title": "count", "scale": {"domain": [-28.8, 604.8], "nice": false, "zero": false},
             "axis": {"values": [0,100,200,300,400,500,600], "format": "d", "labelExpr": "datum.value % 200 == 0 ? datum.label : ''", "gridWidth": {"condition": {"test": "datum.value % 200 != 0", "value": 0.3}, "value": 0.6}, "tickSize": {"condition": {"test": "datum.value % 200 != 0", "value": 0}, "value": 2}, "labelOverlap": false}},
       "y2": {"datum": 0},
       "color": {"field": "g", "type": "nominal", "scale": {"domain": ["GTR","STR","Biopsy"], "range": ["#0073C2","#EFC000","#CD534C"]}, "legend": null}
      }},
     {"width": 229, "height": 64, "data": {"name": "kmD"}, "mark": {"type": "line", "interpolate": "step-after", "strokeWidth": 1},
      "encoding": {
       "x": {"field": "t", "type": "quantitative", "title": "Years", "scale": {"domain": [-0.28, 6.28], "nice": false, "zero": false},
             "axis": {"values": [0,0.5,1,1.5,2,2.5,3,3.5,4,4.5,5,5.5,6], "labelExpr": "datum.value % 1 == 0 ? datum.label : ''", "gridWidth": {"condition": {"test": "datum.value % 1 != 0", "value": 0.3}, "value": 0.6}, "tickSize": {"condition": {"test": "datum.value % 1 != 0", "value": 0}, "value": 2}, "labelOverlap": false, "labelFlush": false, "titlePadding": 1.5}},
       "y": {"field": "s", "type": "quantitative", "title": "Survival probability", "scale": {"domain": [-0.05, 1.05], "nice": false, "zero": false},
             "axis": {"values": [0,0.125,0.25,0.375,0.5,0.625,0.75,0.875,1], "labelExpr": "(datum.value * 4) % 1 == 0 ? format(datum.value, '.2f') : ''", "gridWidth": {"condition": {"test": "(datum.value * 4) % 1 != 0", "value": 0.3}, "value": 0.6}, "tickSize": {"condition": {"test": "(datum.value * 4) % 1 != 0", "value": 0}, "value": 2}, "labelOverlap": false, "labelFlush": false, "titlePadding": 5}},
       "color": {"field": "g", "type": "nominal", "scale": {"domain": ["GTR","STR","Biopsy"], "range": ["#0073C2","#EFC000","#CD534C"]}, "legend": {"title": "Operation", "legendX": 5, "legendY": -15}}
      }}
    ]
   },
   {
    "bounds": "flush", "spacing": 26,
    "resolve": {"scale": {"color": "independent"}, "legend": {"color": "independent"}},
    "hconcat": [
     {"width": 60, "height": 50, "title": {"text": ["", "F"], "dx": -17.5, "offset": 6, "lineHeight": 3},
      "data": {"name": "barF"}, "mark": {"type": "bar", "stroke": "white", "strokeWidth": 0.4},
      "encoding": {
       "x": {"field": "g", "type": "nominal", "title": null, "scale": {"domain": ["methylated","unmethylated","unknown"], "paddingInner": 0.1, "paddingOuter": 0.15}, "axis": {"labelAngle": -45, "labelAlign": "right", "labelBaseline": "top", "labelFontSize": 5, "labelPadding": 2, "grid": true}},
       "y": {"field": "n", "type": "quantitative", "title": "count", "scale": {"domain": [-24.75, 519.75], "nice": false, "zero": false},
             "axis": {"values": [0,50,100,150,200,250,300,350,400,450,500], "format": "d", "labelExpr": "datum.value % 100 == 0 ? datum.label : ''", "gridWidth": {"condition": {"test": "datum.value % 100 != 0", "value": 0.3}, "value": 0.6}, "tickSize": {"condition": {"test": "datum.value % 100 != 0", "value": 0}, "value": 2}, "labelOverlap": false}},
       "y2": {"datum": 0},
       "color": {"field": "g", "type": "nominal", "scale": {"domain": ["methylated","unmethylated","unknown"], "range": ["#0073C2","#EFC000","#868686"]}, "legend": null}
      }},
     {"width": 229, "height": 64, "data": {"name": "kmF"}, "mark": {"type": "line", "interpolate": "step-after", "strokeWidth": 1},
      "encoding": {
       "x": {"field": "t", "type": "quantitative", "title": "Years", "scale": {"domain": [-0.28, 6.28], "nice": false, "zero": false},
             "axis": {"values": [0,0.5,1,1.5,2,2.5,3,3.5,4,4.5,5,5.5,6], "labelExpr": "datum.value % 1 == 0 ? datum.label : ''", "gridWidth": {"condition": {"test": "datum.value % 1 != 0", "value": 0.3}, "value": 0.6}, "tickSize": {"condition": {"test": "datum.value % 1 != 0", "value": 0}, "value": 2}, "labelOverlap": false, "labelFlush": false, "titlePadding": 1.5}},
       "y": {"field": "s", "type": "quantitative", "title": "Survival probability", "scale": {"domain": [-0.05, 1.05], "nice": false, "zero": false},
             "axis": {"values": [0,0.125,0.25,0.375,0.5,0.625,0.75,0.875,1], "labelExpr": "(datum.value * 4) % 1 == 0 ? format(datum.value, '.2f') : ''", "gridWidth": {"condition": {"test": "(datum.value * 4) % 1 != 0", "value": 0.3}, "value": 0.6}, "tickSize": {"condition": {"test": "(datum.value * 4) % 1 != 0", "value": 0}, "value": 2}, "labelOverlap": false, "labelFlush": false, "titlePadding": 5}},
       "color": {"field": "g", "type": "nominal", "scale": {"domain": ["methylated","unmethylated","unknown"], "range": ["#0073C2","#EFC000","#868686"]}, "legend": {"title": "MGMT", "legendX": -6, "legendY": -14}}
      }}
    ]
   },
   {
    "bounds": "flush", "spacing": 26,
    "resolve": {"scale": {"color": "independent"}, "legend": {"color": "independent"}},
    "hconcat": [
     {"width": 60, "height": 65, "title": {"text": ["", "H"], "dx": -17.5, "offset": 6, "lineHeight": 3},
      "data": {"name": "barH"}, "mark": {"type": "bar", "stroke": "white", "strokeWidth": 0.4},
      "encoding": {
       "x": {"field": "g", "type": "nominal", "title": null, "scale": {"domain": ["No","Yes"], "paddingInner": 0.1, "paddingOuter": 0.15}, "axis": {"labelAngle": -45, "labelAlign": "right", "labelBaseline": "top", "labelFontSize": 5, "labelPadding": 2, "grid": true}},
       "y": {"field": "n", "type": "quantitative", "title": "count", "scale": {"domain": [-68.5, 1438.5], "nice": false, "zero": false},
             "axis": {"values": [0,250,500,750,1000,1250], "format": "d", "labelExpr": "datum.value % 500 == 0 ? datum.label : ''", "gridWidth": {"condition": {"test": "datum.value % 500 != 0", "value": 0.3}, "value": 0.6}, "tickSize": {"condition": {"test": "datum.value % 500 != 0", "value": 0}, "value": 2}, "labelOverlap": false}},
       "y2": {"datum": 0},
       "color": {"field": "g", "type": "nominal", "scale": {"domain": ["No","Yes"], "range": ["#0073C2","#EFC000"]}, "legend": null}
      }},
     {"width": 229, "height": 64, "data": {"name": "kmH"}, "mark": {"type": "line", "interpolate": "step-after", "strokeWidth": 1},
      "encoding": {
       "x": {"field": "t", "type": "quantitative", "title": "Years", "scale": {"domain": [-0.28, 6.28], "nice": false, "zero": false},
             "axis": {"values": [0,0.5,1,1.5,2,2.5,3,3.5,4,4.5,5,5.5,6], "labelExpr": "datum.value % 1 == 0 ? datum.label : ''", "gridWidth": {"condition": {"test": "datum.value % 1 != 0", "value": 0.3}, "value": 0.6}, "tickSize": {"condition": {"test": "datum.value % 1 != 0", "value": 0}, "value": 2}, "labelOverlap": false, "labelFlush": false, "titlePadding": 1.5}},
       "y": {"field": "s", "type": "quantitative", "title": "Survival probability", "scale": {"domain": [-0.05, 1.05], "nice": false, "zero": false},
             "axis": {"values": [0,0.125,0.25,0.375,0.5,0.625,0.75,0.875,1], "labelExpr": "(datum.value * 4) % 1 == 0 ? format(datum.value, '.2f') : ''", "gridWidth": {"condition": {"test": "(datum.value * 4) % 1 != 0", "value": 0.3}, "value": 0.6}, "tickSize": {"condition": {"test": "(datum.value * 4) % 1 != 0", "value": 0}, "value": 2}, "labelOverlap": false, "labelFlush": false, "titlePadding": 5}},
       "color": {"field": "g", "type": "nominal", "scale": {"domain": ["No","Yes"], "range": ["#0073C2","#EFC000"]}, "legend": {"title": "TTF", "legendX": 31, "legendY": -15}}
      }}
    ]
   }
  ]
 }
]
}
